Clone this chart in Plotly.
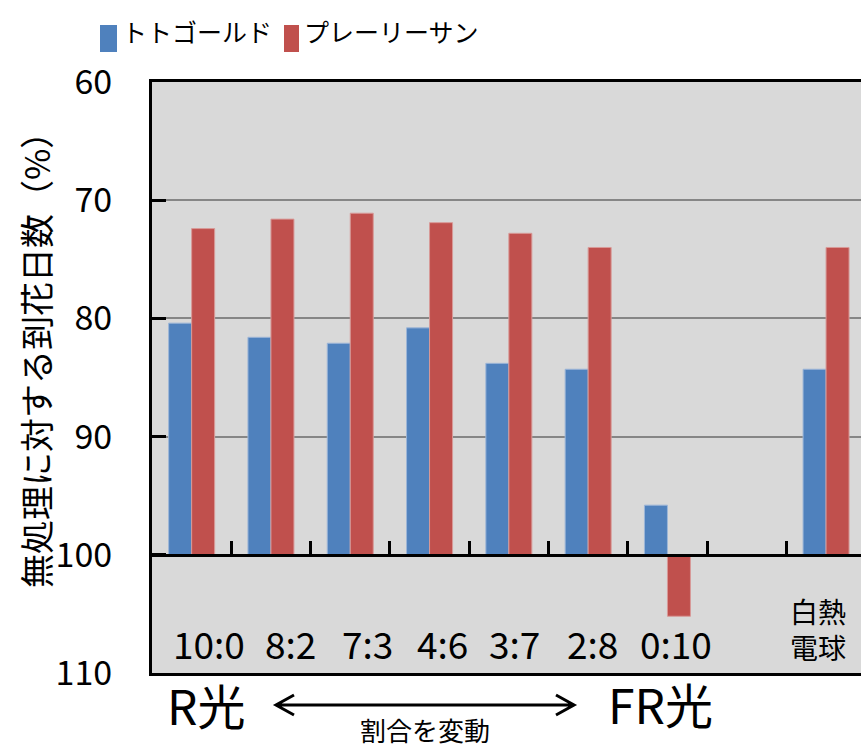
import plotly.graph_objects as go

# ---- data ----
categories = ["10:0", "8:2", "7:3", "4:6", "3:7", "2:8", "0:10", "", "白熱<br>電球"]
series_names = ["トトゴールド", "プレーリーサン"]
totogold = [80.4, 81.6, 82.1, 80.8, 83.8, 84.3, 95.8, None, 84.3]
prairiesun = [72.4, 71.6, 71.1, 71.9, 72.8, 74.0, 105.2, None, 74.0]
base_value = 100
y_ticks = [60, 70, 80, 90, 100, 110]
y_title = "無処理に対する到花日数（%）"
left_label = "R光"
right_label = "FR光"
arrow_label = "割合を変動"

# ---- style ----
W, H = 861, 749
L, R, T, B = 152, 0, 82, 76
BLUE = "#4F81BD"
RED = "#C0504D"
FONT = "Noto Sans CJK JP"
label_shift = [17, 20, 17, 13, 6, 4, 9, 0, -8]


def px2x(px):
    return (px - L) / (W - L - R)


def py2y(py):
    return (H - B - py) / (H - T - B)


xs = list(range(len(categories)))
cat_width_px = 79.3
x_max = -0.5 + (W - L - R) / cat_width_px


def rel(vals):
    return [None if v is None else v - base_value for v in vals]


fig = go.Figure()
fig.add_trace(go.Bar(x=xs, y=rel(totogold), base=base_value, name=series_names[0],
                     marker=dict(color=BLUE, line=dict(color="#9db6d8", width=1))))
fig.add_trace(go.Bar(x=xs, y=rel(prairiesun), base=base_value, name=series_names[1],
                     marker=dict(color=RED, line=dict(color="#d89a98", width=1))))

fig.update_layout(
    width=W, height=H,
    margin=dict(l=L, r=R, t=T, b=B, pad=0),
    paper_bgcolor="white",
    plot_bgcolor="#D9D9D9",
    barmode="group",
    bargap=0.42,
    bargroupgap=0,
    showlegend=False,
    font=dict(family=FONT, color="black"),
    xaxis=dict(range=[-0.5, x_max], showline=True, linecolor="black", linewidth=3,
               mirror=True, showticklabels=False, ticks="", showgrid=False, zeroline=False),
    xaxis2=dict(range=[-0.5, x_max], overlaying="x", anchor="free",
                position=(110 - base_value) / (110 - 60),
                showline=True, linecolor="black", linewidth=3,
                tickmode="array", tickvals=[i + 0.5 for i in xs[:-1]],
                ticks="inside", ticklen=13, tickwidth=2.5, tickcolor="black",
                showticklabels=False, showgrid=False, zeroline=False),
    yaxis=dict(range=[110, 60], tickmode="array", tickvals=y_ticks,
               showline=True, linecolor="black", linewidth=3,
               ticks="inside", ticklen=14, tickwidth=3, tickcolor="black",
               showgrid=True, gridcolor="#868686", gridwidth=2, zeroline=False,
               tickfont=dict(size=34, family=FONT, color="black"),
               ticklabelstandoff=30),
)

# dummy trace to show xaxis2
fig.add_trace(go.Scatter(x=[None], y=[None], xaxis="x2", showlegend=False, hoverinfo="skip"))

annotations = []
# category labels
for i, c in enumerate(categories):
    if not c:
        continue
    if "<br>" in c:
        annotations.append(dict(x=i, y=106.3, xref="x", yref="y", text=c, showarrow=False,
                                xshift=label_shift[i], font=dict(size=28, family=FONT),
                                xanchor="center", yanchor="middle"))
    else:
        annotations.append(dict(x=i, y=107.5, xref="x", yref="y", text=c, showarrow=False,
                                xshift=label_shift[i], font=dict(size=37, family=FONT),
                                xanchor="center", yanchor="middle"))

# y title
annotations.append(dict(x=px2x(35), y=py2y(352), xref="paper", yref="paper", text=y_title,
                        textangle=-90, showarrow=False, font=dict(size=34, family=FONT),
                        xanchor="center", yanchor="middle"))
# bottom labels
annotations.append(dict(x=px2x(206), y=py2y(704), xref="paper", yref="paper", text=left_label,
                        showarrow=False, font=dict(size=48, family=FONT),
                        xanchor="center", yanchor="middle"))
annotations.append(dict(x=px2x(660), y=py2y(703), xref="paper", yref="paper", text=right_label,
                        showarrow=False, font=dict(size=48, family=FONT),
                        xanchor="center", yanchor="middle"))
annotations.append(dict(x=px2x(425), y=py2y(729), xref="paper", yref="paper", text=arrow_label,
                        showarrow=False, font=dict(size=26, family=FONT),
                        xanchor="center", yanchor="middle"))
# legend texts
annotations.append(dict(x=px2x(120), y=py2y(31), xref="paper", yref="paper", text=series_names[0],
                        showarrow=False, font=dict(size=25, family=FONT),
                        xanchor="left", yanchor="middle"))
annotations.append(dict(x=px2x(302), y=py2y(31), xref="paper", yref="paper", text=series_names[1],
                        showarrow=False, font=dict(size=25, family=FONT),
                        xanchor="left", yanchor="middle"))
fig.update_layout(annotations=annotations)

shapes = []
# legend swatches
for (x0, x1), col in [((100, 117), BLUE), ((284, 299), RED)]:
    shapes.append(dict(type="rect", xref="paper", yref="paper",
                       x0=px2x(x0), x1=px2x(x1), y0=py2y(52), y1=py2y(25),
                       fillcolor=col, line=dict(width=0)))


# double arrow
def P(px, py):
    return f"{px2x(px):.5f},{py2y(py):.5f}"


ay = 705
path = (f"M{P(276, ay)} L{P(574, ay)} "
        f"M{P(294, ay - 10)} L{P(276, ay)} L{P(294, ay + 10)} "
        f"M{P(556, ay - 10)} L{P(574, ay)} L{P(556, ay + 10)}")
shapes.append(dict(type="path", xref="paper", yref="paper", path=path,
                   line=dict(color="black", width=3)))
fig.update_layout(shapes=shapes)

fig.write_html("out.html", config={"displayModeBar": False},
               post_script="document.body.style.margin='0';document.body.style.overflow='hidden';")
